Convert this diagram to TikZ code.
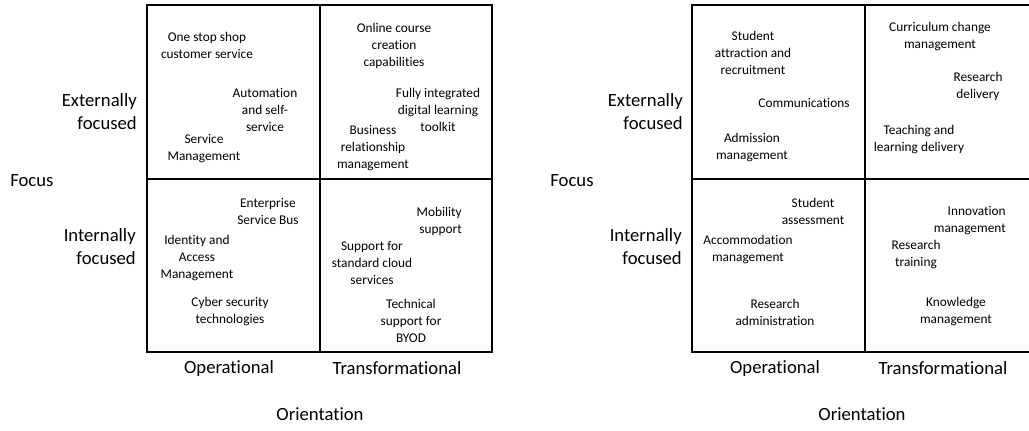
\documentclass[tikz,border=0pt]{standalone}
\usepackage{fontspec}
\setmainfont[Ligatures=NoCommon]{Carlito}

\tikzset{
  grid/.style={line width=1.2pt, black},
  item/.style={align=center, inner sep=0pt, font=\fontsize{10}{12.75}\selectfont},
  itemr/.style={item, align=right, anchor=east},
  axis/.style={inner sep=0pt, font=\fontsize{14}{17.25}\selectfont},
  axisr/.style={axis, align=right, anchor=east}
}

\begin{document}
\begin{tikzpicture}[x=0.75pt, y=-0.75pt]
  \useasboundingbox (0,0) rectangle (1029,430);
  \clip (0,0) rectangle (1029,430);

  % --- 1. 左のマトリクス (IT) ---
  \draw[grid] (147,5) rectangle (492,352);
  \draw[grid] (320,5) -- (320,352);
  \draw[grid] (147,179) -- (492,179);

  % 外部・運用
  \node[item] (oneStop)  at (207,45)  {One stop shop\\customer service};
  \node[item] (autoSelf) at (265,110) {Automation\\and self-\\service};
  \node[item] (svcMgmt)  at (204,149) {Service\\Management};
  % 外部・変革
  \node[item] (online)   at (394,46)  {Online course\\creation\\capabilities};
  \node[item] (fullyInt) at (438,110) {Fully integrated\\digital learning\\toolkit};
  \node[item] (busRel)   at (373,148) {Business\\relationship\\management};
  % 内部・運用
  \node[item] (esb)      at (268,211) {Enterprise\\Service Bus};
  \node[item] (iam)      at (197,258) {Identity and\\Access\\Management};
  \node[item] (cyber)    at (230,312) {Cyber security\\technologies};
  % 内部・変革
  \node[itemr] (mobility) at (462,221) {Mobility\\support};
  \node[item] (cloud)    at (372,263) {Support for\\standard cloud\\services};
  \node[item] (byod)     at (411,321) {Technical\\support for\\BYOD};

  % 軸ラベル
  \node[axisr] (extL)   at (137,112) {Externally\\focused};
  \node[axis, anchor=west] (focusL) at (10,181) {Focus};
  \node[axisr] (intL)   at (136,247) {Internally\\focused};
  \node[axis] (opL)     at (229,369) {Operational};
  \node[axis] (trL)     at (397,368) {Transformational};
  \node[axis] (orientL) at (320,414) {Orientation};

  % --- 2. 右のマトリクス (業務) ---
  \draw[grid] (692,5) rectangle (1038,352);
  \draw[grid] (865,5) -- (865,352);
  \draw[grid] (692,179) -- (1038,179);

  % 外部・運用
  \node[item] (attract)  at (753,53)  {Student\\attraction and\\recruitment};
  \node[item] (comms)    at (804,103) {Communications};
  \node[item] (admit)    at (752,148) {Admission\\management};
  % 外部・変革
  \node[item] (curric)   at (940,37)  {Curriculum change\\management};
  \node[item] (resDel)   at (978,86)  {Research\\delivery};
  \node[item] (teach)    at (919,140) {Teaching and\\learning delivery};
  % 内部・運用
  \node[item] (assess)   at (813,211) {Student\\assessment};
  \node[item] (accom)    at (748,250) {Accommodation\\management};
  \node[item] (resAdmin) at (775,312) {Research\\administration};
  % 内部・変革
  \node[itemr] (innov)   at (1006,221) {Innovation\\management};
  \node[item] (resTrain) at (916,255) {Research\\training};
  \node[item] (knowl)    at (956,312) {Knowledge\\management};

  % 軸ラベル
  \node[axisr] (extR)   at (683,112) {Externally\\focused};
  \node[axis] (focusR)  at (572,181) {Focus};
  \node[axisr] (intR)   at (682,247) {Internally\\focused};
  \node[axis] (opR)     at (775,369) {Operational};
  \node[axis] (trR)     at (943,368) {Transformational};
  \node[axis] (orientR) at (862,414) {Orientation};

\end{tikzpicture}
\end{document}
